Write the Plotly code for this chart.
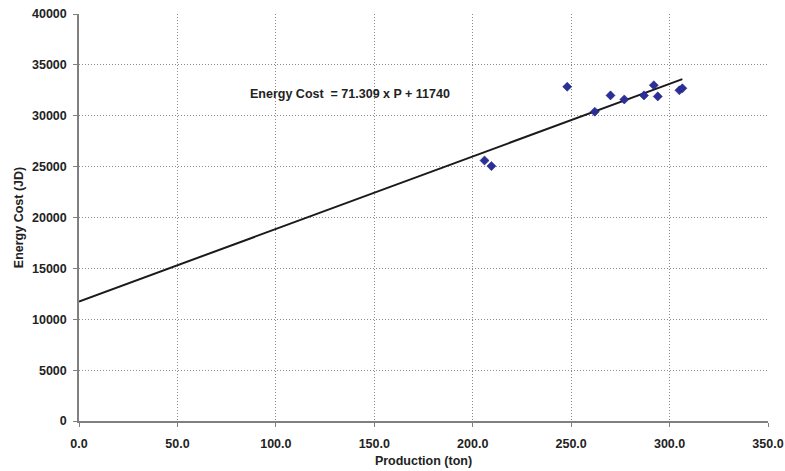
import plotly.graph_objects as go

# Monthly production (ton) and energy cost (JD)
production = [206.0, 209.5, 248.0, 262.0, 270.0, 277.0, 287.0, 292.0, 294.0, 305.0, 306.5]
energy_cost = [25600, 25050, 32850, 30400, 32000, 31600, 32000, 33000, 31900, 32500, 32700]

# Linear fit: Energy Cost = slope * P + intercept
slope = 71.309
intercept = 11740
fit_x = [0.0, max(production)]
fit_y = [slope * x + intercept for x in fit_x]

x_ticks = [0, 50, 100, 150, 200, 250, 300, 350]
y_ticks = [0, 5000, 10000, 15000, 20000, 25000, 30000, 35000, 40000]

font_family = "Liberation Sans, Arial, sans-serif"
text_color = "#222222"

fig = go.Figure()

fig.add_trace(go.Scatter(
    x=fit_x, y=fit_y, mode="lines",
    line=dict(color="#1a1a1a", width=2),
    showlegend=False, hoverinfo="skip",
))

fig.add_trace(go.Scatter(
    x=production, y=energy_cost, mode="markers",
    marker=dict(symbol="diamond", size=7, color="#2b2f9a",
                line=dict(color="#1a1a6e", width=0.5)),
    showlegend=False,
))

fig.add_annotation(
    x=86, y=32100, xref="x", yref="y",
    text="<b>Energy Cost  = 71.309 x P + 11740</b>",
    showarrow=False, xanchor="left", yanchor="middle",
    font=dict(family=font_family, size=12.5, color=text_color),
)

grid_style = dict(showgrid=True, gridcolor="#8c8c8c", griddash="1px,2px", gridwidth=1)

fig.update_xaxes(
    range=[0, 350], tickvals=x_ticks, tickformat=".1f",
    showline=True, linecolor="#808080", linewidth=1.5,
    ticks="outside", ticklen=4, tickcolor="#808080",
    zeroline=False, ticklabelstandoff=6, automargin=False,
    tickfont=dict(family=font_family, size=12.5, color=text_color, weight="bold"),
    title=dict(text="<b>Production (ton)</b>", standoff=6,
               font=dict(family=font_family, size=12.5, color=text_color)),
    **grid_style,
)

fig.update_yaxes(
    range=[0, 40000], tickvals=y_ticks, tickformat="d",
    showline=True, linecolor="#808080", linewidth=1.5,
    ticks="outside", ticklen=4, tickcolor="#808080",
    zeroline=False, ticklabelstandoff=4, automargin=False,
    tickfont=dict(family=font_family, size=12.5, color=text_color, weight="bold"),
    title=dict(text="<b>Energy Cost (JD)</b>", standoff=6,
               font=dict(family=font_family, size=12.5, color=text_color)),
    **grid_style,
)

fig.update_layout(
    width=785, height=471,
    margin=dict(l=79, r=17, t=14, b=50),
    plot_bgcolor="white", paper_bgcolor="white",
)

fig.write_html("out.html")
